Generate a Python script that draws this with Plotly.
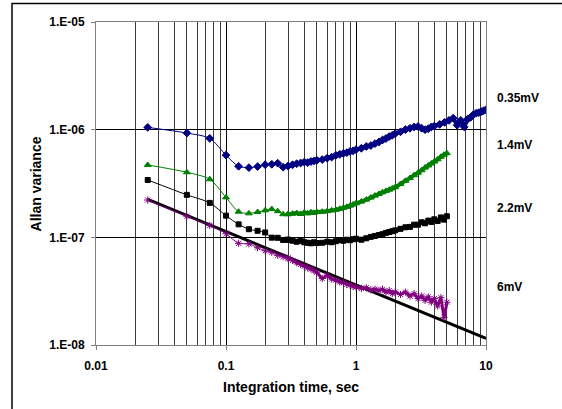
import plotly.graph_objects as go

# ---------------- data ----------------
tau_early = [0.025, 0.05, 0.075, 0.1, 0.125, 0.15, 0.175, 0.2, 0.225, 0.25, 0.275, 0.3]
tau_mid = [0.325, 0.35, 0.375, 0.4, 0.425, 0.45, 0.475, 0.5,
           0.55, 0.6, 0.65, 0.7, 0.75, 0.8, 0.85, 0.9, 0.95, 1.0,
           1.1, 1.2, 1.3, 1.4, 1.5, 1.6, 1.7, 1.8, 1.9, 2.0,
           2.2, 2.4, 2.6, 2.8, 3.0, 3.2, 3.4, 3.6, 3.8, 4.0]
tau_end_short = [4.25, 4.5, 4.75, 5.0]
tau_end_long = [4.4, 4.8, 5.2, 5.6, 6.0, 6.4, 6.8, 7.2, 7.6, 8.0, 8.4, 8.8, 9.2, 9.6, 10.0]

tau_short = tau_early + tau_mid + tau_end_short
tau_long = tau_early + tau_mid + tau_end_long

av_035mV = [1.05e-6, 9.3e-7, 8.3e-7, 5.8e-7, 4.57e-7, 4.44e-7, 4.54e-7, 4.73e-7, 4.77e-7, 4.88e-7, 4.48e-7, 4.6e-7,
            4.72e-7, 4.83e-7, 4.9e-7, 5.0e-7, 4.94e-7, 5.06e-7, 5.12e-7, 5.2e-7,
            5.28e-7, 5.44e-7, 5.56e-7, 5.77e-7, 5.9e-7, 6.03e-7, 6.12e-7, 6.28e-7, 6.36e-7, 6.52e-7,
            6.72e-7, 6.98e-7, 7.12e-7, 7.42e-7, 7.68e-7, 8.02e-7, 8.28e-7, 8.62e-7, 8.86e-7, 9.18e-7,
            9.55e-7, 1.0e-6, 1.03e-6, 1.06e-6, 1.07e-6, 1.03e-6, 1.0e-6, 1.02e-6, 1.06e-6, 1.08e-6,
            1.12e-6, 1.17e-6, 1.22e-6, 1.28e-6, 1.1e-6, 1.22e-6, 1.06e-6, 1.25e-6, 1.3e-6, 1.38e-6,
            1.42e-6, 1.44e-6, 1.47e-6, 1.5e-6, 1.53e-6]

av_14mV = [4.7e-7, 4.02e-7, 3.46e-7, 2.35e-7, 1.73e-7, 1.67e-7, 1.72e-7, 1.78e-7, 1.83e-7, 1.75e-7, 1.64e-7, 1.64e-7,
           1.66e-7, 1.68e-7, 1.65e-7, 1.70e-7, 1.67e-7, 1.71e-7, 1.69e-7, 1.72e-7,
           1.73e-7, 1.75e-7, 1.78e-7, 1.80e-7, 1.84e-7, 1.88e-7, 1.92e-7, 1.97e-7, 2.02e-7, 2.07e-7,
           2.15e-7, 2.24e-7, 2.34e-7, 2.44e-7, 2.53e-7, 2.62e-7, 2.70e-7, 2.77e-7, 2.85e-7, 2.92e-7,
           3.13e-7, 3.35e-7, 3.55e-7, 3.78e-7, 3.98e-7, 4.2e-7, 4.45e-7, 4.65e-7, 4.85e-7, 5.05e-7,
           5.3e-7, 5.6e-7, 5.85e-7, 6.05e-7]

av_22mV = [3.41e-7, 2.48e-7, 2.09e-7, 1.59e-7, 1.32e-7, 1.19e-7, 1.15e-7, 1.11e-7, 9.93e-8, 9.9e-8, 9.46e-8, 9.5e-8,
           9.3e-8, 9.1e-8, 9.3e-8, 9.0e-8, 8.9e-8, 8.8e-8, 9.0e-8, 8.85e-8,
           8.9e-8, 9.1e-8, 9.0e-8, 9.2e-8, 9.4e-8, 9.3e-8, 9.5e-8, 9.4e-8, 9.6e-8, 9.7e-8,
           9.5e-8, 9.8e-8, 1.01e-7, 1.03e-7, 1.05e-7, 1.07e-7, 1.10e-7, 1.12e-7, 1.14e-7, 1.16e-7,
           1.20e-7, 1.24e-7, 1.25e-7, 1.31e-7, 1.31e-7, 1.38e-7, 1.35e-7, 1.43e-7, 1.39e-7, 1.47e-7,
           1.42e-7, 1.53e-7, 1.46e-7, 1.57e-7]

av_6mV = [2.22e-7, 1.57e-7, 1.29e-7, 1.08e-7, 8.8e-8, 8.7e-8, 8.0e-8, 7.5e-8, 7.25e-8, 6.8e-8, 6.6e-8, 6.4e-8,
          6.1e-8, 5.8e-8, 5.6e-8, 5.4e-8, 5.2e-8, 5.1e-8, 4.9e-8, 4.75e-8,
          4.15e-8, 4.45e-8, 4.1e-8, 4.0e-8, 3.85e-8, 3.8e-8, 3.65e-8, 3.6e-8, 3.5e-8, 3.45e-8,
          3.35e-8, 3.4e-8, 3.25e-8, 3.3e-8, 3.2e-8, 3.3e-8, 3.1e-8, 3.2e-8, 3.0e-8, 3.1e-8,
          2.95e-8, 3.1e-8, 2.85e-8, 3.0e-8, 2.7e-8, 2.85e-8, 2.6e-8, 2.8e-8, 2.5e-8, 2.7e-8,
          2.3e-8, 2.75e-8, 1.8e-8, 2.5e-8]

tau_ref = [0.025, 10.0]
av_ref = [2.25e-7, 1.15e-8]

x_tickvals = [0.01, 0.1, 1, 10]
x_ticktext = ["0.01", "0.1", "1", "10"]
y_tickvals = [1e-8, 1e-7, 1e-6, 1e-5]
y_ticktext = ["1.E-08", "1.E-07", "1.E-06", "1.E-05"]

series_labels = ["0.35mV", "1.4mV", "2.2mV", "6mV"]
label_y = [0.765, 0.619, 0.424, 0.180]

# ---------------- figure ----------------
W, H = 562, 409
L, R, T, B = 96, 76, 22, 64
FONT = "Arial, Liberation Sans, Helvetica, sans-serif"
N_EARLY = len(tau_early)

fig = go.Figure()

fig.add_trace(go.Scatter(x=tau_ref, y=av_ref, mode="lines",
                         line=dict(color="black", width=3), hoverinfo="skip"))


def add_series(tau, av, color, symbol, size, band_width):
    # sparse, smoothed start with distinct markers
    fig.add_trace(go.Scatter(x=tau[:N_EARLY], y=av[:N_EARLY], mode="lines+markers",
                             line=dict(color=color, width=1, shape="spline", smoothing=0.8),
                             marker=dict(symbol=symbol, size=size, color=color,
                                         line=dict(color=color, width=1))))
    # dense measured part: markers merge into a thick band
    fig.add_trace(go.Scatter(x=tau[N_EARLY - 1:], y=av[N_EARLY - 1:], mode="lines+markers",
                             line=dict(color=color, width=band_width, shape="spline", smoothing=0.5),
                             marker=dict(symbol=symbol, size=size, color=color,
                                         line=dict(color=color, width=1))))


add_series(tau_short, av_6mV, "#800080", "asterisk-open", 6, 3)
add_series(tau_short, av_22mV, "black", "square", 5, 4)
add_series(tau_short, av_14mV, "#008000", "triangle-up", 6, 4)
add_series(tau_long, av_035mV, "#000080", "diamond", 6, 4)

tickfont = dict(family=FONT, size=12, color="black", weight="bold")

fig.update_xaxes(type="log", range=[-2, 1], tickvals=x_tickvals, ticktext=x_ticktext,
                 showgrid=True, gridcolor="black", gridwidth=1,
                 minor=dict(dtick="D1", showgrid=True, gridcolor="#3a3a3a", gridwidth=1, ticks=""),
                 showline=True, linecolor="#808080", linewidth=1, mirror=True,
                 ticks="outside", ticklen=4, tickcolor="#808080",
                 tickfont=tickfont, ticklabelstandoff=6, zeroline=False)

fig.update_yaxes(type="log", range=[-8, -5], tickvals=y_tickvals, ticktext=y_ticktext,
                 showgrid=True, gridcolor="black", gridwidth=1,
                 showline=True, linecolor="#808080", linewidth=1, mirror=True,
                 ticks="outside", ticklen=4, tickcolor="#808080",
                 tickfont=tickfont, ticklabelstandoff=4, zeroline=False)

annotations = []
for lab, yy in zip(series_labels, label_y):
    annotations.append(dict(text=lab, xref="paper", yref="paper", x=1.023, y=yy,
                            xanchor="left", yanchor="middle", showarrow=False,
                            font=dict(family=FONT, size=12, color="black", weight="bold")))

annotations.append(dict(text="Integration time, sec", xref="paper", yref="paper",
                        x=0.5, y=-0.130, xanchor="center", yanchor="middle", showarrow=False,
                        font=dict(family=FONT, size=14, color="black", weight="bold")))
annotations.append(dict(text="Allan variance", xref="paper", yref="paper",
                        x=-0.154, y=0.5, xanchor="center", yanchor="middle", showarrow=False,
                        textangle=-90,
                        font=dict(family=FONT, size=14, color="black", weight="bold")))

fig.update_layout(width=W, height=H, margin=dict(l=L, r=R, t=T, b=B),
                  paper_bgcolor="white", plot_bgcolor="white", showlegend=False,
                  annotations=annotations,
                  shapes=[dict(type="rect", xref="paper", yref="paper",
                               x0=-0.2154, x1=1.25, y0=-0.25, y1=1.057,
                               line=dict(color="black", width=1.5), layer="above")])

fig.write_html("out.html")
